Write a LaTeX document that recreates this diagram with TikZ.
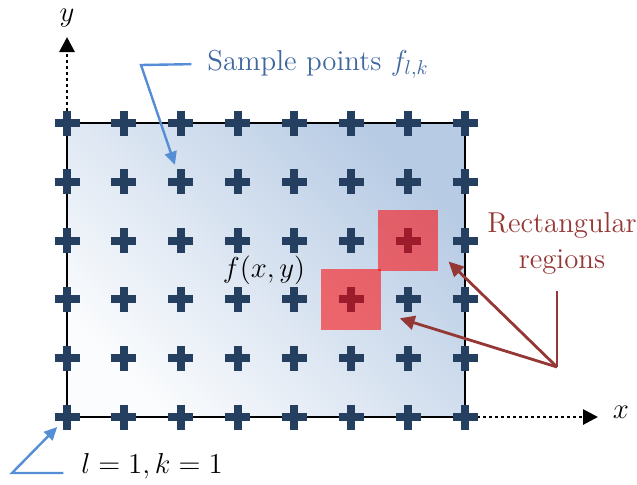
\documentclass[tikz,border=0pt]{standalone}
\usepackage{tikz,amsmath}
\usetikzlibrary{arrows.meta,positioning}
\definecolor{crossblue}{HTML}{243F60}
\definecolor{callblue}{HTML}{558ED5}
\definecolor{labelblue}{HTML}{3F67A0}
\definecolor{regionred}{HTML}{953735}
\definecolor{areatop}{HTML}{B7CBE4}

\begin{document}
\begin{tikzpicture}[x=0.5pt, y=-0.5pt, font=\Large,
  samplept/.style={inner sep=0pt, outer sep=0pt, minimum size=12.5pt},
  plusbar/.style={draw=crossblue, line width=4pt},
  regionbox/.style={fill=red, fill opacity=0.55, inner sep=0pt, minimum width=30pt, minimum height=30.5pt},
  axisline/.style={line width=1.4pt, dash pattern=on 1.5pt off 1.5pt, -{Triangle[length=7.5pt,width=7.5pt]}},
  callout/.style={draw=callblue, line width=1.2pt, -{Triangle[length=6.5pt,width=6pt]}},
  pointer/.style={draw=regionred, line width=1.4pt}]
  \useasboundingbox (0,0) rectangle (637,484);

  % sampled area
  \node[draw, line width=1.3pt, outer sep=0pt, inner sep=0pt, minimum width=199pt, minimum height=147pt,
    top color=areatop, bottom color=areatop!6, shading angle=-45] (area) at (266,270) {};

  % axes
  \coordinate (ytip) at (67,37);
  \coordinate (xtip) at (598,417);
  \draw[axisline] (area.north west) -- (ytip);
  \draw[axisline] (area.south east) -- (xtip);
  \node[inner sep=1pt] (ylab) at (67,18) {$y$};
  \node (xlab) at (621,412) {$x$};

  % sample points, l along x and k along y
  \foreach \l in {1,...,8}
    \foreach \k in {1,...,6} {
      \node[samplept] (s-\l-\k) at ({67+(\l-1)*56.857}, {417-(\k-1)*58.8}) {};
      \draw[plusbar] (s-\l-\k.north) -- (s-\l-\k.south) (s-\l-\k.west) -- (s-\l-\k.east);
    }

  \node[regionbox] (r-upper) at (s-7-4) {};
  \node[regionbox] (r-lower) at (s-6-3) {};

  % labels
  \node (fxy) at (264,270) {$f(x,y)$};
  \node[text=labelblue] (samplelbl) at (318,64) {Sample points $f_{l,k}$};
  \node (originlbl) at (152,466) {$l=1,k=1$};
  \node[text=regionred, align=center] (regionlbl) at (562,243) {Rectangular\\regions};

  % callouts
  \coordinate (sbend) at (141,65);
  \draw[callout, shorten <=4.5pt, shorten >=9pt] (samplelbl.west) -- (sbend) -- (s-3-5.center);
  \coordinate (obend) at (12,473);
  \draw[callout, shorten <=5.5pt, shorten >=7pt] (originlbl.west |- obend) -- (obend) -- (s-1-1.center);

  \coordinate (rfoot) at (557,367);
  \coordinate (utip) at ([shift={(10,-10)}]r-upper.south east);
  \coordinate (ltip) at ([shift={(18,-12)}]r-lower.south east);
  \draw[pointer, shorten >=5pt] (rfoot) -- (rfoot |- regionlbl.south);
  \draw[pointer, -{Triangle[length=7.5pt,width=7pt]}] (rfoot) -- (utip);
  \draw[pointer, -{Triangle[length=7.5pt,width=7pt]}] (rfoot) -- (ltip);
\end{tikzpicture}
\end{document}
